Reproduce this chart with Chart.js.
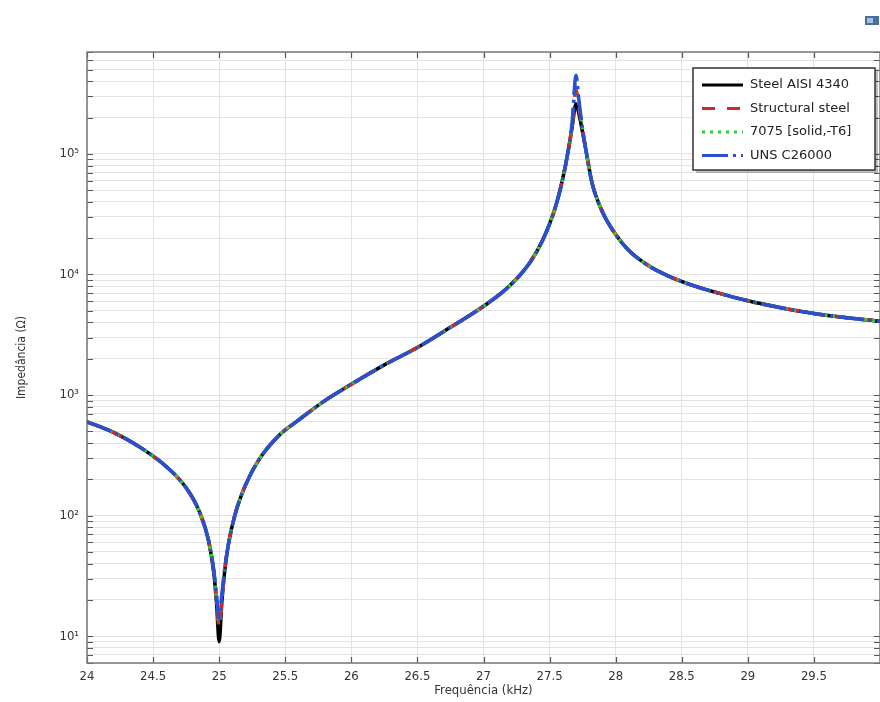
<!DOCTYPE html>
<html>
<head>
<meta charset="utf-8">
<script src="https://cdn.jsdelivr.net/npm/chart.js@4.4.0/dist/chart.umd.min.js"></script>
<style>
  html, body { margin: 0; padding: 0; background: #fff; }
  #wrap { position: relative; width: 880px; height: 702px; }
</style>
</head>
<body>
<div id="wrap"><canvas id="impChart" width="880" height="702"></canvas></div>
<script>
// frequências (kHz) e impedâncias (Ω)
const freq = [24.0, 24.2, 24.4, 24.6, 24.75, 24.85, 24.92, 24.96, 24.98, 25.0, 25.02, 25.04, 25.07, 25.12, 25.2, 25.3, 25.45, 25.6, 25.8, 26.0,
              26.25, 26.5, 26.75, 27.0, 27.2, 27.35, 27.45, 27.55, 27.62, 27.67, 27.7, 27.72, 27.75, 27.78, 27.82, 27.9, 28.0, 28.1, 28.25, 28.4,
              28.6, 28.8, 29.0, 29.25, 29.5, 29.75, 30.0];

const steelAISI4340 = [600, 490, 370, 255, 170, 108, 62, 33, 19, 9, 19, 33, 58, 102, 180, 290, 460, 620, 900, 1230,
                       1780, 2480, 3650, 5450, 8100, 12500, 19500, 38000, 80000, 165000, 260000, 220000, 150000, 100000, 58000, 33000, 21500, 15800, 11800, 9700,
                       8000, 6900, 6050, 5300, 4750, 4380, 4100];
const structuralSteel = [600, 490, 370, 255, 170, 108, 62, 34, 20, 12, 20, 34, 58, 102, 180, 290, 460, 620, 900, 1230,
                         1780, 2480, 3650, 5450, 8100, 12500, 19500, 38000, 80000, 170000, 340000, 250000, 155000, 100000, 58000, 33000, 21500, 15800, 11800, 9700,
                         8000, 6900, 6050, 5300, 4750, 4380, 4100];
const al7075 = [600, 490, 370, 255, 170, 108, 62, 34, 21, 13, 21, 34, 58, 102, 180, 290, 460, 620, 900, 1230,
                1780, 2480, 3650, 5450, 8100, 12500, 19500, 38000, 80000, 175000, 420000, 280000, 160000, 100000, 58000, 33000, 21500, 15800, 11800, 9700,
                8000, 6900, 6050, 5300, 4750, 4380, 4100];
const unsC26000 = [600, 490, 370, 255, 170, 108, 62, 35, 22, 14, 22, 35, 58, 102, 180, 290, 460, 620, 900, 1230,
                   1780, 2480, 3650, 5450, 8100, 12500, 19500, 38000, 80000, 180000, 450000, 290000, 160000, 100000, 58000, 33000, 21500, 15800, 11800, 9700,
                   8000, 6900, 6050, 5300, 4750, 4380, 4100];

const seriesNames = ['Steel AISI 4340', 'Structural steel', '7075 [solid,-T6]', 'UNS C26000'];
const xTicks = [24, 24.5, 25, 25.5, 26, 26.5, 27, 27.5, 28, 28.5, 29, 29.5, 30];
const yDecades = [1, 10, 100, 1000, 10000, 100000];
const yMin = 6, yMax = 700000;
const supers = {1: '¹', 2: '²', 3: '³', 4: '⁴', 5: '⁵'};

const yTicks = [];
yDecades.forEach(d => {
    for (let m = 1; m <= 9; m++) {
        const v = d * m;
        if (v >= yMin && v <= yMax) yTicks.push(v);
    }
});

const toPoints = vals => freq.map((f, i) => ({ x: f, y: vals[i] }));

const tickFont = { family: '"DejaVu Sans Condensed", "DejaVu Sans", sans-serif', size: 13 };

// moldura, marcas internas e ícone
const framePlugin = {
    id: 'frame',
    beforeDatasetsDraw(chart) {
        const { ctx, chartArea: a, scales } = chart;
        ctx.save();
        ctx.strokeStyle = '#555';
        ctx.lineWidth = 1.2;
        ctx.beginPath();
        scales.x.ticks.forEach(t => {
            const px = Math.round(scales.x.getPixelForValue(t.value)) + 0.5;
            ctx.moveTo(px, a.bottom); ctx.lineTo(px, a.bottom - 6);
            ctx.moveTo(px, a.top); ctx.lineTo(px, a.top + 6);
        });
        scales.y.ticks.forEach(t => {
            const py = Math.round(scales.y.getPixelForValue(t.value)) + 0.5;
            ctx.moveTo(a.left, py); ctx.lineTo(a.left + 6, py);
            ctx.moveTo(a.right, py); ctx.lineTo(a.right - 6, py);
        });
        ctx.stroke();
        ctx.strokeStyle = '#7a7a7a';
        ctx.lineWidth = 1.5;
        ctx.strokeRect(a.left, a.top, a.right - a.left, a.bottom - a.top);
        // ícone no canto
        ctx.fillStyle = '#4a6f9c';
        ctx.fillRect(865, 16, 14, 9);
        ctx.fillStyle = '#9fc0e6';
        ctx.fillRect(867, 18, 6, 5);
        ctx.restore();
    }
};

const legendPlugin = {
    id: 'boxLegend',
    afterDraw(chart) {
        const { ctx } = chart;
        const bx = 693, by = 68, bw = 182, bh = 102;
        ctx.save();
        ctx.fillStyle = 'rgba(0,0,0,0.25)';
        ctx.fillRect(bx + 3, by + 3, bw, bh);
        ctx.fillStyle = '#fff';
        ctx.fillRect(bx, by, bw, bh);
        ctx.strokeStyle = '#333';
        ctx.lineWidth = 1.5;
        ctx.strokeRect(bx, by, bw, bh);
        ctx.font = '13px "DejaVu Sans", sans-serif';
        ctx.textBaseline = 'middle';
        const rows = [85, 108.5, 132, 155.5];
        chart.data.datasets.forEach((ds, i) => {
            const y = rows[i];
            ctx.strokeStyle = ds.borderColor;
            ctx.lineWidth = 3;
            ctx.setLineDash(ds.borderDash || []);
            ctx.beginPath();
            ctx.moveTo(702, y); ctx.lineTo(743, y);
            ctx.stroke();
            ctx.setLineDash([]);
            ctx.fillStyle = '#222';
            ctx.fillText(ds.label, 750, y);
        });
        ctx.restore();
    }
};

new Chart(document.getElementById('impChart'), {
    type: 'line',
    data: {
        datasets: [
            { label: seriesNames[0], data: toPoints(steelAISI4340), borderColor: '#000000', borderWidth: 3.5, order: 4 },
            { label: seriesNames[1], data: toPoints(structuralSteel), borderColor: '#d62728', borderWidth: 3.5, borderDash: [13, 12], order: 3 },
            { label: seriesNames[2], data: toPoints(al7075), borderColor: '#33cc33', borderWidth: 3.5, borderDash: [3, 5], order: 2 },
            { label: seriesNames[3], data: toPoints(unsC26000), borderColor: '#2a4fd0', borderWidth: 3.5, borderDash: [26, 5, 3, 5], order: 1 }
        ]
    },
    options: {
        responsive: false,
        animation: false,
        devicePixelRatio: 1,
        layout: { padding: { top: 52, left: 0, right: 0, bottom: 0 } },
        elements: {
            point: { radius: 0 },
            line: { cubicInterpolationMode: 'monotone', fill: false }
        },
        plugins: {
            legend: { display: false },
            tooltip: { enabled: false }
        },
        scales: {
            x: {
                type: 'linear',
                min: 24,
                max: 30,
                afterBuildTicks: scale => { scale.ticks = xTicks.map(v => ({ value: v })); },
                afterFit: scale => { scale.height = 39; scale.paddingRight = 0; scale.paddingLeft = 0; },
                ticks: {
                    autoSkip: false,
                    maxRotation: 0,
                    padding: 6,
                    color: '#333',
                    font: tickFont,
                    callback: v => (v === 30 ? '' : String(v))
                },
                grid: { color: '#e2e2e2', drawTicks: false },
                border: { display: false },
                title: {
                    display: true,
                    text: 'Frequência (kHz)',
                    color: '#333',
                    font: tickFont,
                    padding: { top: 0, bottom: 4 }
                }
            },
            y: {
                type: 'logarithmic',
                min: yMin,
                max: yMax,
                afterBuildTicks: scale => { scale.ticks = yTicks.map(v => ({ value: v, major: yDecades.includes(v) })); },
                afterFit: scale => { scale.width = 87; scale.paddingTop = 0; scale.paddingBottom = 0; },
                ticks: {
                    autoSkip: false,
                    padding: 8,
                    color: '#333',
                    font: tickFont,
                    callback: v => {
                        const e = Math.round(Math.log10(v));
                        return Math.abs(Math.pow(10, e) - v) < 1e-6 && supers[e] ? '10' + supers[e] : '';
                    }
                },
                grid: { color: '#e2e2e2', drawTicks: false },
                border: { display: false },
                title: {
                    display: true,
                    text: 'Impedância (Ω)',
                    color: '#333',
                    font: { family: '"DejaVu Sans Condensed", "DejaVu Sans", sans-serif', size: 12 },
                    padding: { top: 15, bottom: 0 }
                }
            }
        }
    },
    plugins: [framePlugin, legendPlugin]
});
</script>
</body>
</html>
